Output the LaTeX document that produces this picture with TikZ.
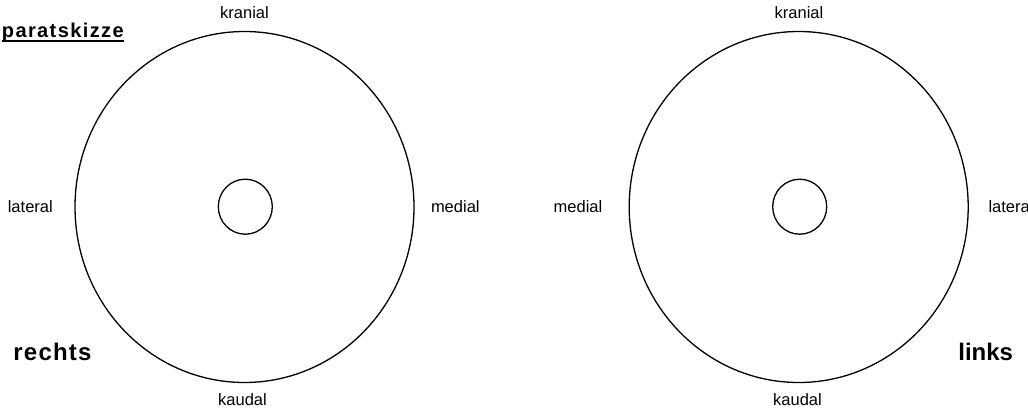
\documentclass[tikz,border=0pt]{standalone}
\usepackage{fontspec}
\setmainfont{Liberation Sans}
\usetikzlibrary{shapes.geometric}
\tikzset{
  ring/.style={draw, ellipse, line width=1.3pt, inner sep=0pt, outer sep=0pt},
  dirlabel/.style={anchor=base, inner sep=0pt, font=\fontsize{16.5}{18}\selectfont},
  sidelabel/.style={anchor=base, inner sep=0pt, font=\fontsize{24}{26}\selectfont\bfseries},
}
\begin{document}
\begin{tikzpicture}[x=1pt,y=-1pt]
\useasboundingbox (0,0) rectangle (1028,410);
% left
\node[ring, minimum width=339pt, minimum height=351pt] (outerL) at (244.5,207) {};
\node[ring, minimum width=54pt, minimum height=55pt] (innerL) at (245.3,206.7) {};
\node[dirlabel] (kranL) at (244.5,18.3) {kranial};
\node[dirlabel] (kaudL) at (242.5,405.7) {kaudal};
\node[dirlabel] (latL) at (30.3,212.3) {lateral};
\node[dirlabel] (medL) at (455.3,212.3) {medial};
% right
\node[ring, minimum width=339pt, minimum height=351pt] (outerR) at (798.7,207) {};
\node[ring, minimum width=54pt, minimum height=55pt] (innerR) at (799.7,206.7) {};
\node[dirlabel] (kranR) at (799,18.3) {kranial};
\node[dirlabel] (kaudR) at (797.5,405.7) {kaudal};
\node[dirlabel] (medR) at (578,212.3) {medial};
\node[dirlabel, anchor=base west] (latR) at (988.3,212.3) {lateral};
% titles
\node[anchor=base west, inner sep=0pt, font=\fontsize{20}{22}\selectfont\bfseries\addfontfeature{LetterSpace=7}] (title) at (1.7,37.5) {paratskizze};
\draw[line width=1.5pt] (title.base west) ++(0,3.5) coordinate (ulA) -- ([yshift=-3.5pt]title.base east) coordinate (ulB);
\node[sidelabel, font=\fontsize{24}{26}\selectfont\bfseries\addfontfeature{LetterSpace=5}] (rechts) at (52.5,360) {rechts};
\node[sidelabel] (links) at (985.7,360) {links};
\end{tikzpicture}
\end{document}
